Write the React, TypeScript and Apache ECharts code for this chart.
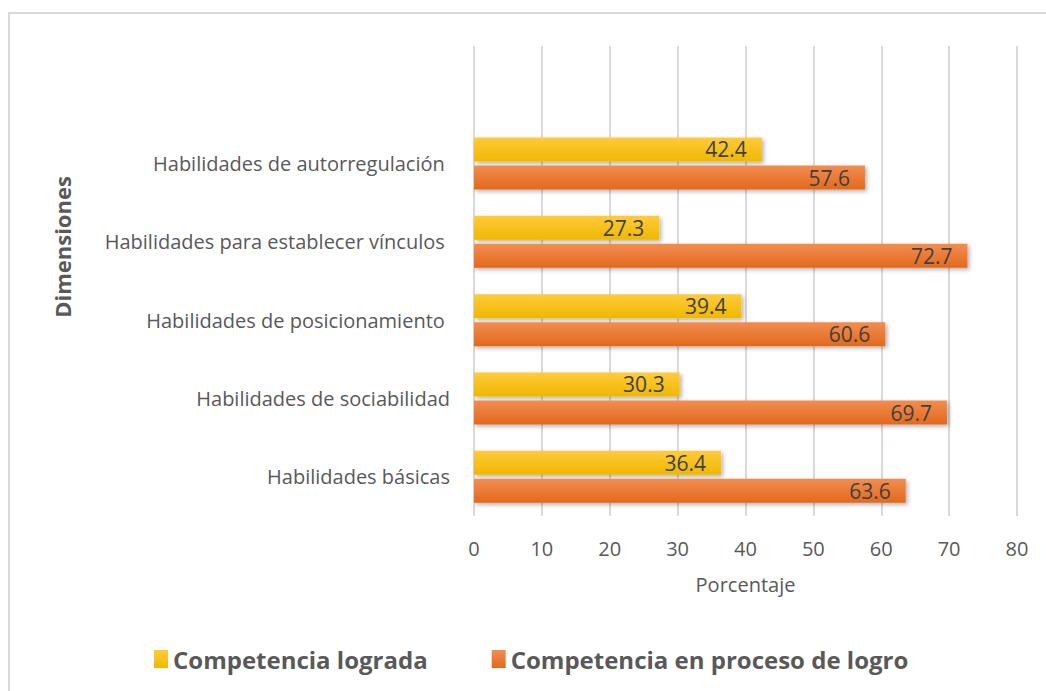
import React, { useEffect, useRef } from "react";
import * as echarts from "echarts";

const categories = [
  "Habilidades básicas",
  "Habilidades de sociabilidad",
  "Habilidades de posicionamiento ",
  "Habilidades para establecer vínculos ",
  "Habilidades de autorregulación ",
  "",
];
const lograda = [36.4, 30.3, 39.4, 27.3, 42.4, null];
const enProceso = [63.6, 69.7, 60.6, 72.7, 57.6, null];
const seriesNames = ["Competencia lograda", "Competencia en proceso de logro"];
const xTicks = { min: 0, max: 80, interval: 10 };

const FONT = "'Open Sans', 'Noto Sans', sans-serif";

export default function App() {
  const ref = useRef<HTMLDivElement>(null);
  useEffect(() => {
    if (!ref.current) return;
    const chart = echarts.init(ref.current, null, { renderer: "svg" });
    const yellow = new echarts.graphic.LinearGradient(0, 0, 0, 1, [
      { offset: 0, color: "#FFCB3C" },
      { offset: 1, color: "#EFB800" },
    ]);
    const orange = new echarts.graphic.LinearGradient(0, 0, 0, 1, [
      { offset: 0, color: "#F28D50" },
      { offset: 1, color: "#E2691C" },
    ]);
    const labelStyle = {
      show: true,
      position: "insideRight" as const,
      distance: 15,
      color: "#404040",
      fontSize: 21,
      fontFamily: FONT,
      formatter: (p: any) => (p.value == null ? "" : Number(p.value).toFixed(1)),
    };
    chart.setOption({
      animation: false,
      backgroundColor: "#ffffff",
      textStyle: { fontFamily: FONT },
      graphic: [
        {
          type: "rect",
          shape: { x: 9, y: 13, width: 1100, height: 720 },
          style: { fill: "none", stroke: "#D9D9D9", lineWidth: 2 },
          silent: true,
        },
        {
          type: "text",
          x: 62,
          y: 247,
          rotation: Math.PI / 2,
          style: {
            text: "Dimensiones",
            fill: "#595959",
            font: `bold 22px ${FONT}`,
            align: "center",
            verticalAlign: "middle",
          },
        },
      ],
      legend: {
        left: 149,
        top: 642,
        itemWidth: 14,
        itemHeight: 18,
        itemGap: 64,
        icon: "rect",
        textStyle: {
          color: "#595959",
          fontSize: 24,
          fontWeight: "bold",
          fontFamily: FONT,
        },
        data: seriesNames,
      },
      grid: { left: 474, right: 29, top: 46, bottom: 175, containLabel: false },
      xAxis: {
        type: "value",
        min: xTicks.min,
        max: xTicks.max,
        interval: xTicks.interval,
        name: "Porcentaje",
        nameLocation: "middle",
        nameGap: 58,
        nameTextStyle: { color: "#595959", fontSize: 20, fontFamily: FONT },
        axisLine: { show: false },
        axisTick: { show: false },
        axisLabel: { color: "#595959", fontSize: 20, margin: 22, fontFamily: FONT },
        splitLine: { lineStyle: { color: "#D9D9D9", width: 2 } },
      },
      yAxis: {
        type: "category",
        data: categories,
        axisLine: { show: false },
        axisTick: { show: false },
        axisLabel: { color: "#595959", fontSize: 20, margin: 24, fontFamily: FONT },
      },
      series: [
        {
          name: seriesNames[0],
          type: "bar",
          data: lograda,
          barWidth: 24,
          barGap: "17%",
          itemStyle: {
            color: yellow,
            shadowBlur: 4,
            shadowColor: "rgba(0,0,0,0.3)",
            shadowOffsetX: 2,
            shadowOffsetY: 2,
          },
          label: labelStyle,
        },
        {
          name: seriesNames[1],
          type: "bar",
          data: enProceso,
          barWidth: 24,
          barGap: "17%",
          itemStyle: {
            color: orange,
            shadowBlur: 4,
            shadowColor: "rgba(0,0,0,0.3)",
            shadowOffsetX: 2,
            shadowOffsetY: 2,
          },
          label: labelStyle,
        },
      ],
    });
    return () => chart.dispose();
  }, []);
  return (
    <div
      ref={ref}
      style={{ position: "fixed", left: 0, top: 0, width: 1046, height: 691 }}
    />
  );
}
